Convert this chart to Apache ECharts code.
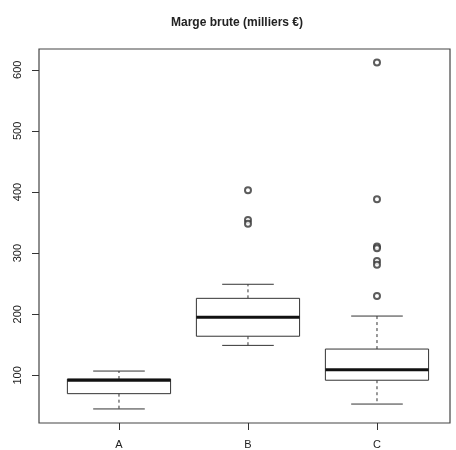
<!DOCTYPE html>
<html>
<head>
<meta charset="utf-8">
<script src="https://cdn.jsdelivr.net/npm/echarts@6/dist/echarts.min.js"></script>
<style>
  html, body { margin: 0; padding: 0; background: #fff; }
  #chart { width: 456px; height: 450px; }
</style>
</head>
<body>
<div id="chart"></div>
<script>
// groups and their five-number summaries [min, Q1, median, Q3, max]
const groups = ['A', 'B', 'C'];
const minVals = [45, 149, 53];
const q1Vals = [70, 164, 92];
const medianVals = [92, 195, 109];
const q3Vals = [94, 226, 143];
const maxVals = [107, 249, 197];

// outliers per group
const outliersB = [403, 354, 348];
const outliersC = [612, 388, 311, 308, 287, 281, 230];

const yTicks = [100, 200, 300, 400, 500, 600];

const chart = echarts.init(document.getElementById('chart'));

const boxData = groups.map((g, i) => [i + 1, minVals[i], q1Vals[i], medianVals[i], q3Vals[i], maxVals[i]]);
const outlierData = []
  .concat(outliersB.map(v => [2, v]))
  .concat(outliersC.map(v => [3, v]));

const lineColor = '#333';

function renderBox(params, api) {
  const x = api.value(0);
  const pMin = api.coord([x, api.value(1)]);
  const pQ1 = api.coord([x, api.value(2)]);
  const pMed = api.coord([x, api.value(3)]);
  const pQ3 = api.coord([x, api.value(4)]);
  const pMax = api.coord([x, api.value(5)]);
  const halfBox = api.size([0.8, 0])[0] / 2;
  const halfCap = api.size([0.4, 0])[0] / 2;
  const cx = pMed[0];
  const thin = { stroke: lineColor, lineWidth: 1, fill: null };
  const dashed = { stroke: lineColor, lineWidth: 1, lineDash: [3, 3] };
  return {
    type: 'group',
    children: [
      { type: 'line', shape: { x1: cx, y1: pQ3[1], x2: cx, y2: pMax[1] }, style: dashed },
      { type: 'line', shape: { x1: cx, y1: pQ1[1], x2: cx, y2: pMin[1] }, style: dashed },
      { type: 'line', shape: { x1: cx - halfCap, y1: pMax[1], x2: cx + halfCap, y2: pMax[1] }, style: thin },
      { type: 'line', shape: { x1: cx - halfCap, y1: pMin[1], x2: cx + halfCap, y2: pMin[1] }, style: thin },
      { type: 'rect', shape: { x: cx - halfBox, y: pQ3[1], width: halfBox * 2, height: pQ1[1] - pQ3[1] },
        style: { stroke: lineColor, lineWidth: 1, fill: '#fff' } },
      { type: 'line', shape: { x1: cx - halfBox, y1: pMed[1], x2: cx + halfBox, y2: pMed[1] },
        style: { stroke: '#111', lineWidth: 3 } }
    ]
  };
}

const option = {
  animation: false,
  backgroundColor: '#fff',
  title: {
    text: 'Marge brute (milliers €)',
    left: 166,
    top: 12,
    textStyle: { fontFamily: 'Liberation Sans', fontSize: 12, fontWeight: 'bold', color: '#222' }
  },
  grid: {
    left: 39, right: 6, top: 49, bottom: 27,
    show: true, borderColor: '#444', borderWidth: 1.2, backgroundColor: 'transparent'
  },
  xAxis: {
    type: 'value',
    min: 0.38,
    max: 3.566,
    splitLine: { show: false },
    axisLine: { show: false },
    axisTick: { show: true, length: 7, lineStyle: { color: lineColor }, customValues: [1, 2, 3] },
    axisLabel: {
      customValues: [1, 2, 3],
      margin: 16,
      fontFamily: 'Liberation Sans', fontSize: 11, color: '#222',
      formatter: v => groups[Math.round(v) - 1] || ''
    }
  },
  yAxis: {
    type: 'value',
    min: 22,
    max: 634,
    splitLine: { show: false },
    axisLine: { show: false },
    axisTick: { show: true, length: 7, lineStyle: { color: lineColor }, customValues: yTicks },
    axisLabel: {
      customValues: yTicks,
      rotate: 90,
      margin: 16,
      fontFamily: 'Liberation Sans', fontSize: 11, color: '#222'
    }
  },
  series: [
    {
      type: 'custom',
      renderItem: renderBox,
      data: boxData,
      encode: { x: 0, y: [1, 2, 3, 4, 5] },
      z: 2
    },
    {
      type: 'scatter',
      data: outlierData,
      symbol: 'emptyCircle',
      symbolSize: 6,
      itemStyle: { color: lineColor, borderColor: lineColor, borderWidth: 1.3 },
      z: 3
    }
  ]
};

chart.setOption(option);
</script>
</body>
</html>
